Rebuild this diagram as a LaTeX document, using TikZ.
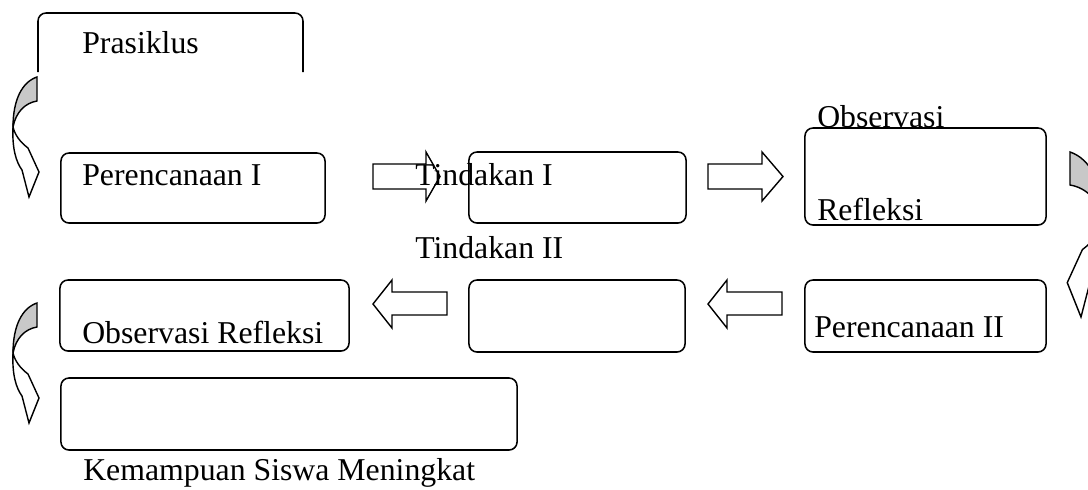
\documentclass[tikz,border=0pt]{standalone}
\usepackage{fontspec}
\setmainfont{Liberation Serif}
\usetikzlibrary{arrows.meta}

\begin{document}
\begin{tikzpicture}[x=0.025cm, y=-0.025cm, >=Stealth,
  stagebox/.style={draw, rounded corners=0.2cm, line width=1.1pt, inner sep=0pt},
  stagetext/.style={anchor=base west, inner sep=0pt, font=\fontsize{22.6}{27}\selectfont},
  blockarrow/.style={draw, fill=white, line width=1pt, line join=miter},
  bendfold/.style={draw, fill=foldgray, line width=1pt},
  bendbody/.style={draw, fill=white, line width=1pt}]
  \definecolor{foldgray}{RGB}{200,200,200}

  \useasboundingbox (0,0) rectangle (1088,489);
  \clip (0,0) rectangle (1088,489);

  % curved arrows at the ends of the rows
  \foreach \sx/\sy/\px/\py in {1/1/37/77, 1/1/37/303, -1.375/1.375/1070/152} {
    \begin{scope}[shift={(\px,\py)}, xscale=\sx, yscale=\sy]
      \draw[bendfold] (0,0) .. controls (-15,5) and (-24,23) .. (-24,50)
        .. controls (-21,35) and (-12,26) .. (0,24) -- cycle;
      \draw[bendbody] (-24,50) .. controls (-25,71) and (-21,85) .. (-15,93)
        -- (-8,120) -- (2,95) -- (-9,71)
        .. controls (-17,65) and (-22,58) .. (-24,50) -- cycle;
    \end{scope}
  }

  % open box on top
  \draw[line width=1.1pt, rounded corners=0.2cm] (38,72) |- (303,13) -- (303,72);

  \node[stagebox, minimum width=6.6cm, minimum height=1.75cm] (per1box) at (193,188) {};
  \node[stagebox, minimum width=5.425cm, minimum height=1.775cm] (tin1box) at (577.5,187.5) {};
  \node[stagebox, minimum width=6.025cm, minimum height=2.425cm] (obs1box) at (925.5,176.5) {};
  \node[stagebox, minimum width=7.225cm, minimum height=1.775cm] (obs2box) at (204.5,315.5) {};
  \node[stagebox, minimum width=5.4cm, minimum height=1.8cm] (tin2box) at (577,316) {};
  \node[stagebox, minimum width=6.025cm, minimum height=1.8cm] (per2box) at (925.5,316) {};
  \node[stagebox, minimum width=11.4cm, minimum height=1.8cm] (kembox) at (289,414) {};

  % block arrows
  \draw[blockarrow] (373,164) -- (426,164) -- (426,152) -- (440,176.5)
    -- (426,201) -- (426,189) -- (373,189) -- cycle;
  \draw[blockarrow] (708,164) -- (762,164) -- (762,152) -- (783,176.5)
    -- (762,201) -- (762,189) -- (708,189) -- cycle;
  \draw[blockarrow] (447,292) -- (392,292) -- (392,280) -- (373,304)
    -- (392,328) -- (392,315) -- (447,315) -- cycle;
  \draw[blockarrow] (782,292) -- (727,292) -- (727,280) -- (708,304)
    -- (727,328) -- (727,315) -- (782,315) -- cycle;

  \node[stagetext] (pra) at (82,53) {Prasiklus};
  \node[stagetext] (per1) at (82,185) {Perencanaan I};
  \node[stagetext] (tin1) at (415,185) {Tindakan I};
  \node[stagetext] (obs1) at (817,127) {Observasi};
  \node[stagetext] (ref1) at (817,220) {Refleksi};
  \node[stagetext] (tin2) at (415,258) {Tindakan II};
  \node[stagetext] (obs2) at (82,343) {Observasi Refleksi};
  \node[stagetext] (per2) at (814,337) {Perencanaan II};
  \node[stagetext] (kem) at (83,480) {Kemampuan Siswa Meningkat};

\end{tikzpicture}
\end{document}
